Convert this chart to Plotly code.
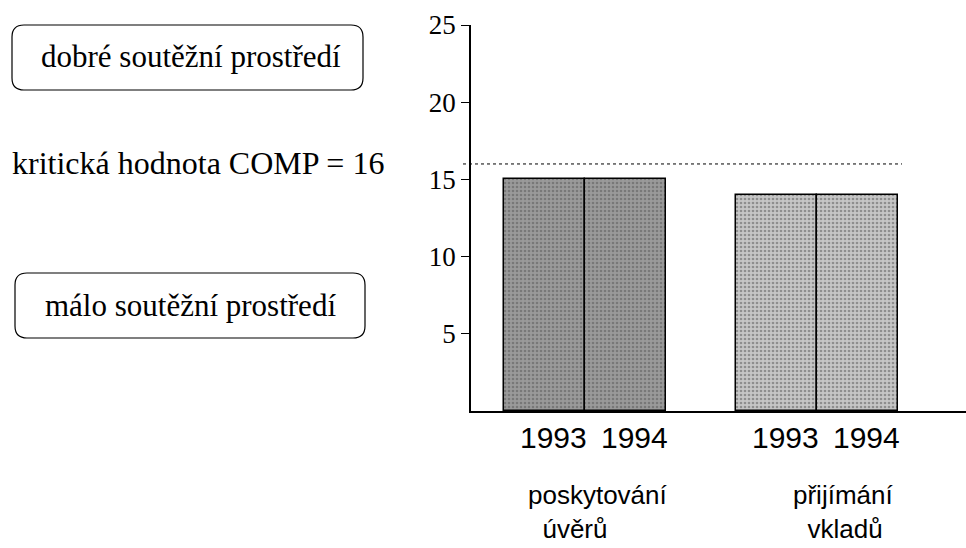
import plotly.graph_objects as go

# ---- data ----
categories = ["poskytování úvěrů", "přijímání vkladů"]
years = ["1993", "1994"]
values = {
    "poskytování úvěrů": [15, 15],
    "přijímání vkladů": [14, 14],
}
critical_value = 16
y_ticks = [5, 10, 15, 20, 25]
note_top = "dobré soutěžní prostředí"
note_mid = "kritická hodnota COMP = %d" % critical_value
note_bottom = "málo soutěžní prostředí"

# ---- layout geometry (pixels) ----
W, H = 966, 548
PL, PR, PT, PB = 471, 966, 25, 411  # plot area in pixels
pw, ph = PR - PL, PB - PT


def px(x):
    return (x - PL) / pw


def py(y):
    return (PB - y) / ph


group_fill = ["#9a9a9a", "#c6c6c6"]
label_shift = [13, 26]   # pixel offsets of category labels from group centre
bar_w = 1.0
first_center = 0.91
group_gap = 2.86
x_max = pw / 81.0

fig = go.Figure()
bar_centers = []
for g, cat in enumerate(categories):
    xs = [first_center + g * group_gap + j * bar_w for j in range(len(years))]
    bar_centers.append(xs)
    fig.add_trace(go.Bar(
        x=xs, y=values[cat], width=bar_w,
        marker=dict(color=group_fill[g],
                    line=dict(color="black", width=1.5),
                    pattern=dict(shape=".", fgcolor="#555555", size=4, solidity=0.35)),
        showlegend=False, hoverinfo="skip",
    ))

# critical value dotted line
fig.add_shape(type="line", xref="paper", yref="y",
              x0=px(463), x1=px(902), y0=critical_value, y1=critical_value,
              line=dict(color="black", width=1, dash="dot"))

# year labels under bars
for g, xs in enumerate(bar_centers):
    for j, xv in enumerate(xs):
        fig.add_annotation(x=xv, y=0, xref="x", yref="y", yanchor="top",
                           text=years[j], showarrow=False, xshift=9, yshift=-8,
                           font=dict(family="Liberation Sans", size=30, color="black"))

# category labels (two lines each)
for g, cat in enumerate(categories):
    first, second = cat.split(" ")
    c = sum(bar_centers[g]) / 2
    fig.add_annotation(x=c, y=py(546), xref="x", yref="paper",
                       xanchor="center", yanchor="bottom", align="left",
                       text=first + "<br>\u00a0\u00a0" + second,
                       showarrow=False, xshift=label_shift[g],
                       font=dict(family="Liberation Sans", size=26, color="black"))


def rounded_box(x0, y0, x1, y1, r):
    X = lambda v: px(v)
    Y = lambda v: py(v)
    return ("M {a},{b} L {c},{b} Q {d},{b} {d},{e} L {d},{f} Q {d},{g} {c},{g} "
            "L {a},{g} Q {h},{g} {h},{f} L {h},{e} Q {h},{b} {a},{b} Z").format(
        a=X(x0 + r), b=Y(y0), c=X(x1 - r), d=X(x1), e=Y(y0 + r),
        f=Y(y1 - r), g=Y(y1), h=X(x0))


fig.add_shape(type="path", xref="paper", yref="paper",
              path=rounded_box(12, 25, 363, 90, 12), line=dict(color="black", width=1.2))
fig.add_shape(type="path", xref="paper", yref="paper",
              path=rounded_box(15, 273, 365, 338, 12), line=dict(color="black", width=1.2))

serif = dict(family="Liberation Serif", size=31, color="black")
fig.add_annotation(x=px(191), y=py(57), xref="paper", yref="paper", text=note_top,
                   showarrow=False, xanchor="center", yanchor="middle", font=serif)
fig.add_annotation(x=px(10), y=py(163), xref="paper", yref="paper", text=note_mid,
                   showarrow=False, xanchor="left", yanchor="middle",
                   font=dict(family="Liberation Serif", size=32, color="black"))
fig.add_annotation(x=px(190), y=py(305), xref="paper", yref="paper", text=note_bottom,
                   showarrow=False, xanchor="center", yanchor="middle", font=serif)

fig.update_layout(
    width=W, height=H,
    margin=dict(l=PL, r=W - PR, t=PT, b=H - PB, pad=0),
    plot_bgcolor="white", paper_bgcolor="white",
    bargap=0,
    xaxis=dict(range=[0, x_max], showgrid=False, zeroline=False, showticklabels=False,
               showline=True, linecolor="black", linewidth=1.5, ticks="", fixedrange=True),
    yaxis=dict(range=[0, 25], tickvals=y_ticks, ticks="outside", ticklen=8,
               tickcolor="black", tickwidth=1.2, showgrid=False, zeroline=False,
               showline=True, linecolor="black", linewidth=1.5, fixedrange=True,
               tickfont=dict(family="Liberation Serif", size=27, color="black")),
)

fig.write_html("out.html", config={"displayModeBar": False},
               post_script="document.body.style.margin='0';")
